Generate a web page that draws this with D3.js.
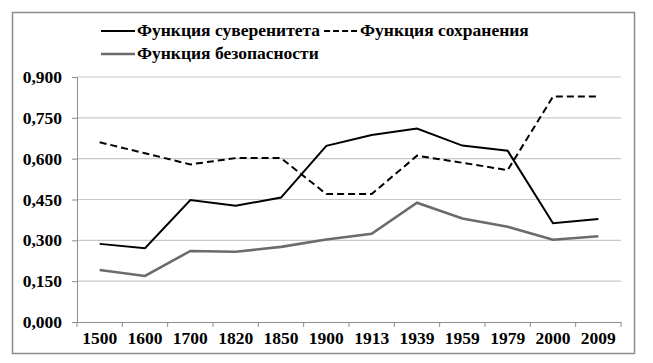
<!DOCTYPE html>
<html>
<head>
<meta charset="utf-8">
<script src="https://cdn.jsdelivr.net/npm/d3@7"></script>
<style>
  body { margin: 0; background: #fff; }
</style>
</head>
<body>
<div id="chart"></div>
<script>
var years = ["1500", "1600", "1700", "1820", "1850", "1900", "1913", "1939", "1959", "1979", "2000", "2009"];
var sovereignty = [0.287, 0.271, 0.448, 0.427, 0.457, 0.647, 0.687, 0.711, 0.648, 0.629, 0.363, 0.378];
var preservation = [0.660, 0.620, 0.579, 0.602, 0.602, 0.470, 0.470, 0.611, 0.585, 0.558, 0.828, 0.828];
var security = [0.191, 0.169, 0.261, 0.258, 0.276, 0.303, 0.324, 0.438, 0.380, 0.350, 0.302, 0.315];
var yTicks = [0, 0.15, 0.3, 0.45, 0.6, 0.75, 0.9];

var width = 653, height = 363;
var margin = {top: 77, right: 32, bottom: 41, left: 77};
var w = width - margin.left - margin.right,
    h = height - margin.top - margin.bottom;
var font = "Liberation Serif, Times New Roman, serif";

var svg = d3.select("#chart")
  .append("svg")
    .attr("width", width)
    .attr("height", height);

// outer frame
svg.append("rect")
  .attr("x", 12.5).attr("y", 12.5)
  .attr("width", 622).attr("height", 341)
  .attr("fill", "none")
  .attr("stroke", "#8c8c8c")
  .attr("stroke-width", 1.5);

var g = svg.append("g")
  .attr("transform", "translate(" + margin.left + "," + margin.top + ")");

var x = d3.scaleBand().domain(years).range([0, w]);
var y = d3.scaleLinear().domain([0, 0.9]).range([h, 0]);

// gridlines
g.selectAll(".grid")
  .data(yTicks.slice(1))
  .enter()
  .append("line")
  .attr("x1", 0).attr("x2", w)
  .attr("y1", function(d) { return y(d); })
  .attr("y2", function(d) { return y(d); })
  .attr("stroke", "#c8c8c8")
  .attr("stroke-width", 1.2);

// Y axis
var yAxis = g.append("g")
  .call(d3.axisLeft(y).tickValues(yTicks).tickSize(5).tickPadding(10)
    .tickFormat(function(d) { return d3.format(".3f")(d).replace(".", ","); }));
yAxis.attr("font-family", font).attr("font-weight", "bold");
yAxis.select(".domain").attr("stroke", "#8c8c8c");
yAxis.selectAll(".tick line").attr("stroke", "#8c8c8c");
yAxis.selectAll("text")
  .attr("font-size", "17.5px")
  .attr("fill", "#000");

// X axis
var xAxis = g.append("g")
  .attr("transform", "translate(0," + h + ")")
  .call(d3.axisBottom(x).tickSize(0).tickPadding(10));
xAxis.attr("font-family", font).attr("font-weight", "bold");
xAxis.select(".domain").attr("stroke", "#8c8c8c");
xAxis.selectAll("text")
  .attr("font-size", "17.5px")
  .attr("fill", "#000");
// tick marks between categories
g.selectAll(".xtick")
  .data(years.concat([null]))
  .enter()
  .append("line")
  .attr("x1", function(d, i) { return i * x.step(); })
  .attr("x2", function(d, i) { return i * x.step(); })
  .attr("y1", h).attr("y2", h + 5)
  .attr("stroke", "#8c8c8c");

var line = d3.line()
  .x(function(d, i) { return x(years[i]) + x.bandwidth() / 2; })
  .y(function(d) { return y(d); });

g.append("path")
  .datum(security)
  .attr("d", line)
  .attr("fill", "none")
  .attr("stroke", "#6b6b6b")
  .attr("stroke-width", 2.6);

g.append("path")
  .datum(preservation)
  .attr("d", line)
  .attr("fill", "none")
  .attr("stroke", "#000")
  .attr("stroke-width", 2)
  .attr("stroke-dasharray", "7,4");

g.append("path")
  .datum(sovereignty)
  .attr("d", line)
  .attr("fill", "none")
  .attr("stroke", "#000")
  .attr("stroke-width", 2);

// legend
var legend = [
  {name: "Функция суверенитета", row: 0, color: "#000", dash: null, sw: 2},
  {name: "Функция сохранения", row: 0, color: "#000", dash: "6,3", sw: 2},
  {name: "Функция безопасности", row: 1, color: "#6b6b6b", dash: null, sw: 2.6}
];
var rowY = [31, 54];
var cursor = [101, 101];
legend.forEach(function(d) {
  var lx = cursor[d.row], ly = rowY[d.row];
  svg.append("line")
    .attr("x1", lx).attr("x2", lx + 34)
    .attr("y1", ly).attr("y2", ly)
    .attr("stroke", d.color)
    .attr("stroke-width", d.sw)
    .attr("stroke-dasharray", d.dash);
  var t = svg.append("text")
    .attr("x", lx + 36)
    .attr("y", ly + 5)
    .attr("font-family", font)
    .attr("font-weight", "bold")
    .attr("font-size", "17.5px")
    .text(d.name);
  cursor[d.row] = lx + 36 + t.node().getComputedTextLength() + 4;
});
</script>
</body>
</html>
